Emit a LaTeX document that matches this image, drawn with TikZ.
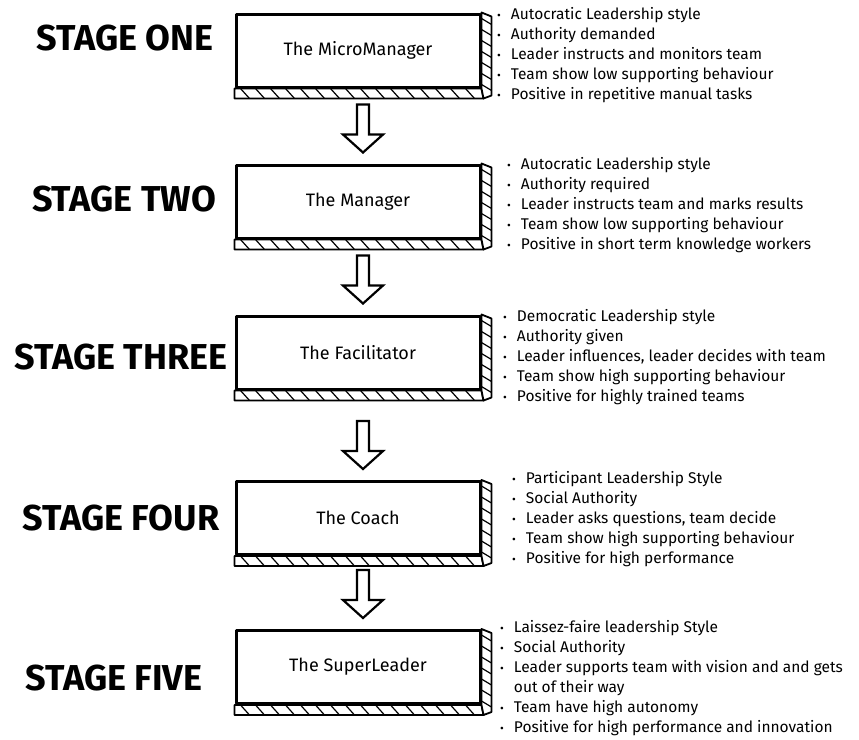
\documentclass[tikz,border=0pt]{standalone}
\usepackage{fontspec}
\setmainfont{Fira Sans}
\usetikzlibrary{calc,backgrounds}

% 3D rim of a slab: hatched bottom strip and hatched right side
\newcommand\slabrim[1]{%
  \begin{pgfonlayer}{background}
    \filldraw[rim] (#1.south west) -- (#1.south east) -- ++(2,10)
      -- ($(#1.south west)+(0,10)$) -- cycle;
    \filldraw[rim] (#1.north east) -- ++(10,4) -- ($(#1.south east)+(10,7)$)
      -- ($(#1.south east)+(2,10)$) -- (#1.south east) -- cycle;
    \foreach \i in {6,21,...,231}
      \draw[hatch] ($(#1.south west)+(\i,0)$) -- ++(9,10);
    \foreach \j in {6,17,...,72}
      \draw[hatch] ($(#1.north east)+(0,\j)$) -- ++(10,6);
  \end{pgfonlayer}}

% hollow block arrow pointing down onto a slab
\newcommand\flowinto[1]{%
  \filldraw[flow] ($(#1.north)+(5,-11)$) -- ++(-20,-18) -- ++(14,0)
    -- ++(0,-30) -- ++(12,0) -- ++(0,30) -- ++(14,0) -- cycle;}

\newcommand\pt[1]{\scalebox{0.75}{\textbullet} & #1\\}

\begin{document}
\begin{tikzpicture}[x=1pt,y=-1pt,
  face/.style={draw, fill=white, line width=3pt, line join=round,
    minimum width=244pt, minimum height=73pt, inner sep=0pt,
    font=\fontsize{18}{20}\selectfont},
  rim/.style={draw, line width=1.8pt, line join=round, fill=white},
  hatch/.style={line width=1.2pt},
  stagelabel/.style={font=\fontsize{36}{40}\selectfont\bfseries, inner sep=0pt},
  points/.style={anchor=west, inner sep=0pt, font=\fontsize{15.5}{20}\selectfont},
  flow/.style={draw, line width=2.2pt, line join=miter, fill=white}
]
\useasboundingbox (0,0) rectangle (859,739);

% slabs
\node[face] (b1) at (358,50.5)  {The MicroManager};
\node[face] (b2) at (358,201.5) {The Manager};
\node[face] (b3) at (358,352.5) {The Facilitator};
\node[face] (b4) at (358,518)   {The Coach};
\node[face] (b5) at (358,667)   {The SuperLeader};
\foreach \b in {b1,b2,b3,b4,b5} {\slabrim{\b}}

% arrows between stages
\flowinto{b2}
\flowinto{b3}
\flowinto{b4}
\flowinto{b5}

% stage names
\node[stagelabel] (s1) at (125,38)  {STAGE ONE};
\node[stagelabel] (s2) at (124,199) {STAGE TWO};
\node[stagelabel] (s3) at (121,357) {STAGE THREE};
\node[stagelabel] (s4) at (121,518) {STAGE FOUR};
\node[stagelabel] (s5) at (114,678) {STAGE FIVE};

% characteristics of each stage
\node[points] (p1) at (497,55) {\begin{tabular}{@{}l@{\hspace{10pt}}l@{}}
  \pt{Autocratic Leadership style}
  \pt{Authority demanded}
  \pt{Leader instructs and monitors team}
  \pt{Team show low supporting behaviour}
  \pt{Positive in repetitive manual tasks}
\end{tabular}};
\node[points] (p2) at (507,205) {\begin{tabular}{@{}l@{\hspace{10pt}}l@{}}
  \pt{Autocratic Leadership style}
  \pt{Authority required}
  \pt{Leader instructs team and marks results}
  \pt{Team show low supporting behaviour}
  \pt{Positive in short term knowledge workers}
\end{tabular}};
\node[points] (p3) at (503,357) {\begin{tabular}{@{}l@{\hspace{10pt}}l@{}}
  \pt{Democratic Leadership style}
  \pt{Authority given}
  \pt{Leader influences, leader decides with team}
  \pt{Team show high supporting behaviour}
  \pt{Positive for highly trained teams}
\end{tabular}};
\node[points] (p4) at (512,519) {\begin{tabular}{@{}l@{\hspace{10pt}}l@{}}
  \pt{Participant Leadership Style}
  \pt{Social Authority}
  \pt{Leader asks questions, team decide}
  \pt{Team show high supporting behaviour}
  \pt{Positive for high performance}
\end{tabular}};
\node[points] (p5) at (500,678) {\begin{tabular}{@{}l@{\hspace{10pt}}l@{}}
  \pt{Laissez-faire leadership Style}
  \pt{Social Authority}
  \pt{Leader supports team with vision and and gets}
  & out of their way\\
  \pt{Team have high autonomy}
  \pt{Positive for high performance and innovation}
\end{tabular}};
\end{tikzpicture}
\end{document}
